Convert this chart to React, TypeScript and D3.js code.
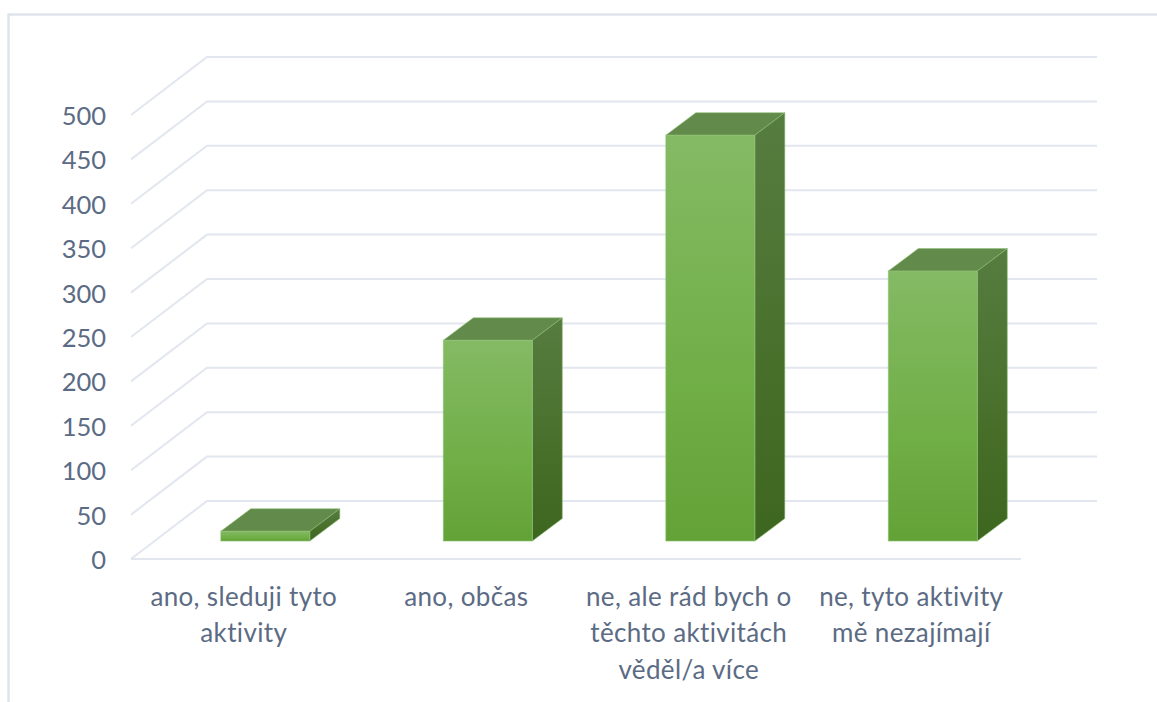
import React from "react";
import * as d3 from "d3";

// Survey answers and their counts
const categories = [
  ["ano, sleduji tyto", "aktivity"],
  ["ano, občas"],
  ["ne, ale rád bych o", "těchto aktivitách", "věděl/a více"],
  ["ne, tyto aktivity", "mě nezajímají"],
];
const values = [11, 226, 457, 304];
const yTicks = [0, 50, 100, 150, 200, 250, 300, 350, 400, 450, 500];

const WIDTH = 1157;
const HEIGHT = 702;

// Chart box: front edge of the floor and wall, plus the projected depth
const FRONT_LEFT = 131;
const FRONT_RIGHT = 1021;
const DEPTH_X = 76;
const DEPTH_Y = -58;
const BAR_SHIFT = 0.31;
const BAR_DEPTH_X = 30;
const BAR_DEPTH_Y = -22.5;
const BAR_WIDTH = 89;

const FONT = "Lato, 'Open Sans', sans-serif";
const TEXT = "#5c6b84";
const GRID = "#e2e6ee";

export default function App() {
  const y = d3.scaleLinear().domain([0, 500]).range([559, 115]);
  const x = d3
    .scaleBand<number>()
    .domain(d3.range(categories.length))
    .range([FRONT_LEFT, FRONT_RIGHT]);

  const pts = (p: [number, number][]) => p.map((q) => q.join(",")).join(" ");
  const base = y(0) + DEPTH_Y * BAR_SHIFT;
  const unit = y(0) - y(1);

  return (
    <svg
      width={WIDTH}
      height={HEIGHT}
      style={{ position: "absolute", left: 0, top: 0, background: "#fff" }}
    >
      <defs>
        <linearGradient id="front" x1="0" y1="0" x2="0" y2="1">
          <stop offset="0" stopColor="#84ba64" />
          <stop offset="0.62" stopColor="#70ae46" />
          <stop offset="1" stopColor="#63a237" />
        </linearGradient>
        <linearGradient id="side" x1="0" y1="0" x2="0" y2="1">
          <stop offset="0" stopColor="#567d40" />
          <stop offset="0.6" stopColor="#486f2a" />
          <stop offset="1" stopColor="#3d661f" />
        </linearGradient>
      </defs>

      {/* Outer frame */}
      <path d="M8.5,702 V14.5 H1157" fill="none" stroke="#dfe4ec" strokeWidth={2.5} />

      {/* Gridlines along the side wall and back wall */}
      {yTicks.map((t) => (
        <polyline
          key={t}
          fill="none"
          stroke={GRID}
          strokeWidth={2}
          points={pts([
            [FRONT_LEFT, y(t)],
            [FRONT_LEFT + DEPTH_X, y(t) + DEPTH_Y],
            [FRONT_RIGHT + DEPTH_X, y(t) + DEPTH_Y],
          ])}
        />
      ))}
      <line
        x1={FRONT_LEFT}
        x2={FRONT_RIGHT}
        y1={y(0)}
        y2={y(0)}
        stroke={GRID}
        strokeWidth={2}
      />

      {/* Value axis labels */}
      {yTicks.map((t) => (
        <text
          key={t}
          x={106}
          y={y(t)}
          textAnchor="end"
          dominantBaseline="central"
          fontFamily={FONT}
          fontSize={25.5}
          fill={TEXT}
        >
          {t}
        </text>
      ))}

      {/* Columns: front, side and top faces */}
      {values.map((v, i) => {
        const left = x(i)! + x.bandwidth() / 2 - 45 + DEPTH_X * BAR_SHIFT;
        const right = left + BAR_WIDTH;
        const top = base - v * unit;
        return (
          <g key={i} stroke="#8cbf72" strokeOpacity={0.55} strokeWidth={1}>
            <polygon
              fill="#628a4a"
              points={pts([
                [left, top],
                [left + BAR_DEPTH_X, top + BAR_DEPTH_Y],
                [right + BAR_DEPTH_X, top + BAR_DEPTH_Y],
                [right, top],
              ])}
            />
            <polygon
              fill="url(#side)"
              points={pts([
                [right, top],
                [right + BAR_DEPTH_X, top + BAR_DEPTH_Y],
                [right + BAR_DEPTH_X, base + BAR_DEPTH_Y],
                [right, base],
              ])}
            />
            <rect x={left} y={top} width={BAR_WIDTH} height={base - top} fill="url(#front)" />
          </g>
        );
      })}

      {/* Category labels */}
      {categories.map((lines, i) =>
        lines.map((line, j) => (
          <text
            key={j}
            x={x(i)! + x.bandwidth() / 2 + 1.5}
            y={595.5 + j * 36.5}
            textAnchor="middle"
            dominantBaseline="central"
            fontFamily={FONT}
            fontSize={26}
            letterSpacing={0.35}
            fill={TEXT}
          >
            {line}
          </text>
        ))
      )}
    </svg>
  );
}
